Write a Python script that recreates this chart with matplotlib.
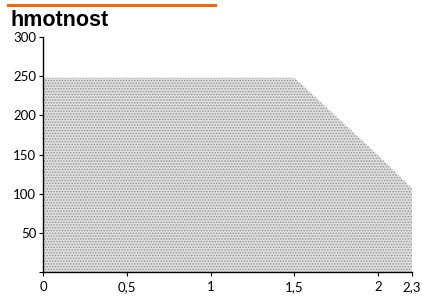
import numpy as np
import matplotlib
matplotlib.use("Agg")
import matplotlib.pyplot as plt
from matplotlib.lines import Line2D

# data
x_vals = [0, 1.5, 2.0, 2.3]
y_vals = [248, 248, 149, 107]
x_ticks = [0, 0.5, 1, 1.5, 2, 2.3]
x_tick_labels = ["0", "0,5", "1", "1,5", "2", "2,3"]
y_ticks = [0, 50, 100, 150, 200, 250, 300]
y_tick_labels = ["", "50", "100", "150", "200", "250", "300"]
title = "hmotnost"

K = 0.673

def fwd(x):
    x = np.asarray(x, dtype=float)
    return np.where(x <= 2, x, 2 + (x - 2) * K)

def inv(x):
    x = np.asarray(x, dtype=float)
    return np.where(x <= 2, x, 2 + (x - 2) / K)

plt.rcParams['hatch.linewidth'] = 0.7
plt.rcParams['hatch.color'] = '#7f7f7f'

fig = plt.figure(figsize=(4.22, 2.96), dpi=100)
ax = fig.add_axes([43.3 / 422, 1 - 272.3 / 296, (412 - 43.3) / 422, (272.3 - 37) / 296])
ax.set_xscale('function', functions=(fwd, inv))

ax.fill_between(x_vals, y_vals, 0, facecolor='#e0e0e0', hatch='......',
                edgecolor='#8f8f8f', linewidth=0)

ax.set_xlim(0, 2.3)
ax.set_ylim(0, 300)
ax.set_xticks(x_ticks)
ax.set_xticklabels(x_tick_labels)
ax.set_yticks(y_ticks)
ax.set_yticklabels(y_tick_labels)
ax.xaxis.set_minor_locator(matplotlib.ticker.NullLocator())

for s in ['top', 'right']:
    ax.spines[s].set_visible(False)
for s in ['left', 'bottom']:
    ax.spines[s].set_linewidth(1.0)
    ax.spines[s].set_color('black')

ax.tick_params(axis='both', length=3, width=0.8, labelsize=9.5, colors='black')
ax.tick_params(axis='x', pad=3.5)
ax.tick_params(axis='y', pad=2)
for lab in ax.get_xticklabels() + ax.get_yticklabels():
    lab.set_family('Lato')
ax.get_xticklabels()[0].set_x(-0.02)

fig.text(11 / 422, 1 - 26.5 / 296, title, fontsize=15.5, fontweight='bold',
         family='Liberation Sans', ha='left', va='baseline')

fig.add_artist(Line2D([8 / 422, 215 / 422], [1 - 4.5 / 296, 1 - 4.5 / 296],
                      transform=fig.transFigure, color='#f26a10', linewidth=2.2))

fig.savefig('out.png', dpi=100)
